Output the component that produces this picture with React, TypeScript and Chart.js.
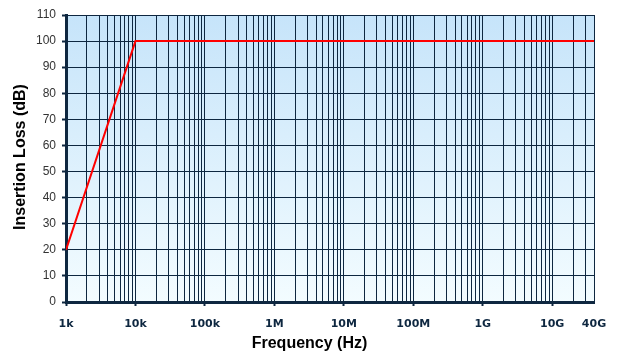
import React, { useEffect, useRef } from "react";
import { Chart, registerables } from "chart.js";

Chart.register(...registerables);

const freqHz = [1000, 10000, 4e10];
const lossDb = [20, 100, 100];
const decadeTicks = [1e3, 1e4, 1e5, 1e6, 1e7, 1e8, 1e9, 1e10, 4e10];
const decadeLabels = ["1k", "10k", "100k", "1M", "10M", "100M", "1G", "10G", "40G"];
const yMin = 0;
const yMax = 110;
const yStep = 10;
const xTitle = "Frequency (Hz)";
const yTitle = "Insertion Loss (dB)";

const DARK = "#0e2740";

function buildMinorTicks(): number[] {
  const out: number[] = [];
  for (let d = 1e3; d <= 1e10; d *= 10) {
    for (let m = 1; m <= 9; m++) {
      const v = m * d;
      if (v <= 4e10) out.push(v);
    }
  }
  out.push(2e10, 3e10, 4e10);
  return Array.from(new Set(out.map((v) => Math.round(v)))).sort((a, b) => a - b);
}

const bgPlugin = {
  id: "bgGradient",
  beforeDraw(chart: any) {
    const { ctx, chartArea } = chart;
    if (!chartArea) return;
    const g = ctx.createLinearGradient(0, chartArea.top, 0, chartArea.bottom);
    g.addColorStop(0, "#c6e4fa");
    g.addColorStop(1, "#f3fcff");
    ctx.save();
    ctx.fillStyle = g;
    ctx.fillRect(chartArea.left, chartArea.top, chartArea.right - chartArea.left, chartArea.bottom - chartArea.top);
    ctx.restore();
  },
};

const titlePlugin = {
  id: "axisTitles",
  afterDraw(chart: any) {
    const { ctx, width } = chart;
    ctx.save();
    ctx.fillStyle = "#000";
    ctx.font = "bold 16px 'Liberation Sans'";
    ctx.textAlign = "center";
    ctx.textBaseline = "middle";
    ctx.fillText(xTitle, width / 2, 344);
    ctx.translate(21, 157);
    ctx.rotate(-Math.PI / 2);
    ctx.fillText(yTitle, 0, 0);
    ctx.restore();
  },
};

function isDecade(v: number) {
  return decadeTicks.some((d) => Math.abs(d - v) / d < 1e-9);
}

export default function App() {
  const ref = useRef<HTMLCanvasElement>(null);
  useEffect(() => {
    if (!ref.current) return;
    const allTicks = buildMinorTicks();
    const chart = new Chart(ref.current, {
      type: "line",
      data: {
        datasets: [
          {
            data: freqHz.map((f, i) => ({ x: f, y: lossDb[i] })),
            borderColor: "#ff0000",
            borderWidth: 2,
            pointRadius: 0,
            fill: false,
            tension: 0,
          },
        ],
      },
      plugins: [bgPlugin, titlePlugin],
      options: {
        animation: false,
        responsive: false,
        maintainAspectRatio: false,
        layout: { padding: { left: 0, right: 25, top: 15, bottom: 0 } },
        plugins: { legend: { display: false }, tooltip: { enabled: false } },
        scales: {
          x: {
            type: "logarithmic",
            min: 1e3,
            max: 4e10,
            afterBuildTicks(scale: any) {
              scale.ticks = allTicks.map((v) => ({ value: v, major: isDecade(v) }));
            },
            afterFit(scale: any) {
              scale.height = 62;
              scale.paddingLeft = 0;
              scale.paddingRight = 0;
            },
            ticks: {
              autoSkip: false,
              maxRotation: 0,
              minRotation: 0,
              padding: 12,
              color: DARK,
              font: { family: "DejaVu Sans", size: 11, weight: "bold" },
              callback(value: any) {
                const v = Number(value);
                const i = decadeTicks.findIndex((d) => Math.abs(d - v) / d < 1e-9);
                return i >= 0 ? decadeLabels[i] : "";
              },
            },
            grid: {
              color: DARK,
              lineWidth: 1,
              tickLength: 4,
              tickColor: (ctx: any) => {
                const v = ctx.tick ? ctx.tick.value : 0;
                return isDecade(v) && v !== 4e10 ? DARK : "rgba(0,0,0,0)";
              },
              tickWidth: 2,
            },
            border: { display: true, color: DARK, width: 3 },
            title: { display: false },
          },
          y: {
            type: "linear",
            min: yMin,
            max: yMax,
            afterFit(scale: any) {
              scale.width = 66;
            },
            ticks: {
              stepSize: yStep,
              padding: 6,
              color: "#333",
              font: { family: "Liberation Sans", size: 12 },
            },
            grid: {
              color: DARK,
              lineWidth: 1,
              tickLength: 4,
              tickColor: DARK,
              tickWidth: 2,
            },
            border: { display: true, color: DARK, width: 3 },
            title: { display: false },
          },
        },
      },
    } as any);
    return () => chart.destroy();
  }, []);
  return (
    <div style={{ position: "fixed", left: 0, top: 0, width: 619, height: 364, background: "#fff" }}>
      <canvas ref={ref} width={619} height={364} style={{ width: 619, height: 364, display: "block" }} />
    </div>
  );
}
